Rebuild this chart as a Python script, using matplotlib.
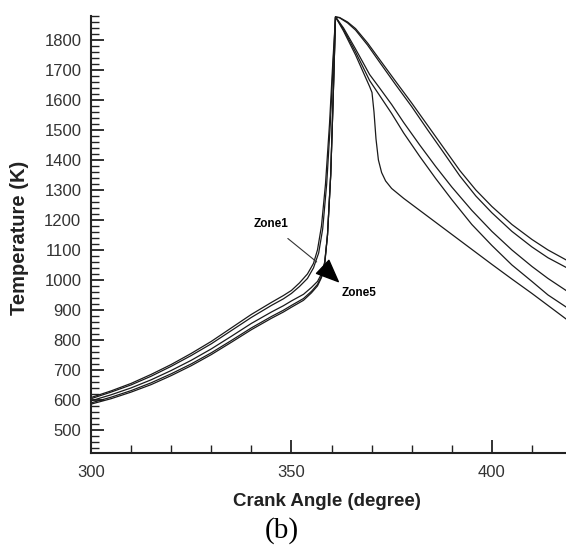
import numpy as np
import matplotlib
matplotlib.use('Agg')
import matplotlib.pyplot as plt
from matplotlib.ticker import MultipleLocator

# crank angle (deg) / temperature (K), one pair per zone
ca1 = [300, 305, 310, 315, 320, 325, 330, 335, 340, 345, 348, 350, 352, 354, 355.5, 356.5, 357.5, 358.5, 359.5, 360.3, 361,
       362, 364, 366, 369, 372, 376, 380, 384, 388, 392, 396, 400, 405, 410, 414, 418.5]
T1 = [608, 630, 655, 685, 718, 755, 795, 840, 885, 925, 948, 965, 990, 1020, 1055, 1100, 1180, 1320, 1520, 1720, 1877,
      1875, 1860, 1838, 1790, 1735, 1662, 1590, 1515, 1440, 1365, 1300, 1245, 1185, 1135, 1100, 1067]

ca2 = [300, 305, 310, 315, 320, 325, 330, 335, 340, 345, 348, 350, 352, 354, 355.5, 356.8, 357.8, 358.8, 359.7, 360.4, 361,
       362, 364, 366, 369, 372, 376, 380, 384, 388, 392, 396, 400, 405, 410, 414, 418.5]
T2 = [604, 626, 650, 679, 712, 748, 787, 831, 875, 915, 937, 955, 978, 1005, 1040, 1090, 1170, 1320, 1520, 1720, 1877,
      1874, 1857, 1833, 1783, 1726, 1651, 1578, 1500, 1424, 1347, 1280, 1224, 1162, 1110, 1074, 1042]

ca3 = [300, 305, 310, 315, 320, 325, 330, 335, 340, 345, 348, 350, 353, 355, 356.5, 357.5, 358.3, 359, 359.8, 360.4, 361,
       363, 366, 369.5, 372, 375, 378, 382, 386, 390, 395, 400, 405, 410, 414, 418.5]
T3 = [597, 617, 640, 667, 698, 732, 770, 812, 855, 893, 914, 930, 952, 975, 995, 1020, 1060, 1150, 1350, 1600, 1877,
      1840, 1770, 1685, 1640, 1585, 1525, 1450, 1378, 1310, 1232, 1162, 1100, 1045, 1005, 965]

ca4 = [300, 305, 310, 315, 320, 325, 330, 335, 340, 345, 348, 350, 353, 355, 356.5, 357.5, 358.3, 359, 359.8, 360.4, 361,
       363, 366, 369.5, 372, 375, 378, 382, 386, 390, 395, 400, 405, 410, 414, 418.5]
T4 = [590, 609, 631, 657, 687, 720, 757, 798, 840, 878, 899, 915, 938, 962, 985, 1012, 1055, 1150, 1350, 1600, 1877,
      1835, 1760, 1665, 1615, 1555, 1490, 1412, 1338, 1268, 1185, 1115, 1050, 995, 950, 910]

ca5 = [300, 305, 310, 315, 320, 325, 330, 335, 340, 345, 348, 350, 353, 355, 356.5, 357.5, 358.3, 359, 359.8, 360.4, 361,
       363, 366, 369.5, 370.1, 370.6, 371.1, 371.7, 372.5, 373.5, 375, 378, 382, 386, 390, 395, 400, 405, 410, 414, 418.5]
T5 = [586, 604, 626, 651, 681, 714, 751, 792, 834, 872, 893, 909, 932, 957, 980, 1008, 1052, 1150, 1350, 1600, 1877,
      1830, 1750, 1645, 1625, 1560, 1470, 1400, 1358, 1330, 1305, 1272, 1232, 1192, 1152, 1102, 1052, 1003, 955, 915, 870]

zones = [(ca1, T1), (ca2, T2), (ca3, T3), (ca4, T4), (ca5, T5)]

fig = plt.figure(figsize=(5.66, 5.47), dpi=100)
ax = fig.add_axes([91/566, 1-452.7/547, 1-91/566, (452.7-16)/547])

for ca, T in zones:
    ax.plot(ca, T, color='#1a1a1a', lw=0.9)

ax.set_xlim(300, 418.5)
ax.set_ylim(424, 1880)
ax.xaxis.set_major_locator(MultipleLocator(50))
ax.xaxis.set_minor_locator(MultipleLocator(10))
ax.yaxis.set_major_locator(MultipleLocator(100))
ax.yaxis.set_minor_locator(MultipleLocator(20))
ax.set_yticks(np.arange(500, 1801, 100))

for s in ['top', 'right']:
    ax.spines[s].set_visible(False)
for s in ['left', 'bottom']:
    ax.spines[s].set_linewidth(1.5)
    ax.spines[s].set_color('#222222')

ax.tick_params(which='both', direction='in', color='#222222', labelcolor='#333333',
               labelsize=12, labelfontfamily='Liberation Sans')
ax.tick_params(which='major', length=9.5, width=1.3)
ax.tick_params(which='minor', length=5.5, width=1.0)
ax.tick_params(axis='y', pad=7)
ax.tick_params(axis='x', pad=9)

fig.text(20/566, 1-238/547, 'Temperature (K)', rotation=90, ha='center', va='center',
         fontsize=14.5, fontweight='bold', family='Liberation Sans', color='#222222')
fig.text(327/566, 1-501/547, 'Crank Angle (degree)', ha='center', va='center',
         fontsize=13.5, fontweight='bold', family='Liberation Sans', color='#222222')
fig.text(282/566, 9/547, '(b)', ha='center', va='baseline', fontsize=21,
         family='Liberation Serif', color='black')

# zone labels
ax.annotate('Zone1', xy=(356.3, 1060), xytext=(344.8, 1185), ha='center', va='center',
            fontsize=8.5, fontweight='bold', family='Liberation Sans',
            arrowprops=dict(arrowstyle='-', color='#333333', lw=0.8, shrinkA=6, shrinkB=0))
ax.annotate('', xy=(362.2, 988), xytext=(357.3, 1050),
            arrowprops=dict(arrowstyle='wedge,tail_width=1.3,shrink_factor=0.5', fc='black', ec='black'))
ax.text(366.8, 957, 'Zone5', ha='center', va='center', fontsize=8.5, fontweight='bold',
        family='Liberation Sans')

fig.savefig('out.png', dpi=100)
plt.close()
